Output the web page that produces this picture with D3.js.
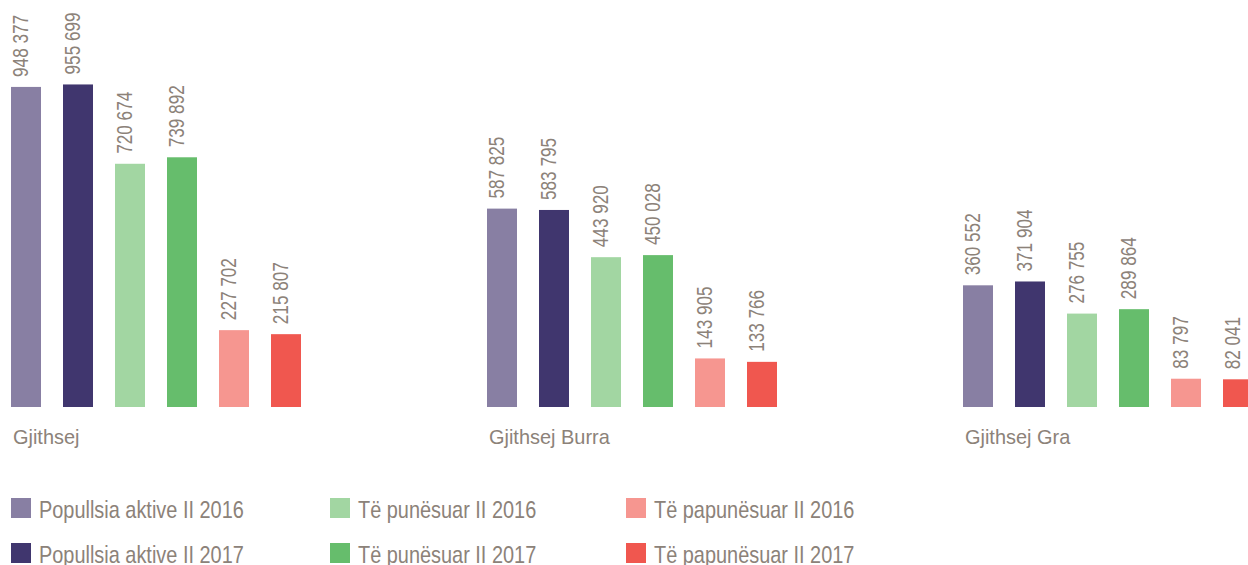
<!DOCTYPE html>
<html>
<head>
<meta charset="utf-8">
<script src="https://cdn.jsdelivr.net/npm/d3@7"></script>
<style>
  html, body { margin: 0; padding: 0; background: #fff; }
  svg { display: block; }
  text { font-family: "Liberation Sans", Arial, sans-serif; fill: #8c8279; }
</style>
</head>
<body>
<svg id="chart" width="1248" height="565"></svg>
<script>
const categories = ["Gjithsej", "Gjithsej Burra", "Gjithsej Gra"];
const seriesNames = [
  "Popullsia aktive II 2016", "Popullsia aktive II 2017",
  "Të punësuar II 2016", "Të punësuar II 2017",
  "Të papunësuar II 2016", "Të papunësuar II 2017"
];
const popAktive2016 = [948377, 587825, 360552];
const popAktive2017 = [955699, 583795, 371904];
const tePunesuar2016 = [720674, 443920, 276755];
const tePunesuar2017 = [739892, 450028, 289864];
const tePapunesuar2016 = [227702, 143905, 83797];
const tePapunesuar2017 = [215807, 133766, 82041];
const seriesValues = [popAktive2016, popAktive2017, tePunesuar2016, tePunesuar2017, tePapunesuar2016, tePapunesuar2017];
const colors = ["#887fa3", "#40366e", "#a2d6a2", "#66bd6c", "#f69690", "#f0574f"];

const svg = d3.select("#chart");
const baseY = 407;

const x0 = d3.scaleBand().domain(categories).range([11, 11 + 3 * 476]).padding(0);
const x1 = d3.scaleBand().domain(seriesNames).range([0, 6 * 52 - 22]).paddingInner(22 / 52).paddingOuter(0);
const y = d3.scaleLinear().domain([0, 1200000]).range([baseY, baseY - 405]);

const fmt = v => d3.format(",")(v).replace(/,/g, " ");

const groups = svg.selectAll("g.grp").data(categories).join("g")
  .attr("class", "grp")
  .attr("transform", c => `translate(${x0(c)},0)`);

groups.each(function(c, ci) {
  const g = d3.select(this);
  const rows = seriesNames.map((s, si) => ({ s, si, v: seriesValues[si][ci] }));
  g.selectAll("rect").data(rows).join("rect")
    .attr("x", d => x1(d.s))
    .attr("y", d => y(d.v))
    .attr("width", x1.bandwidth())
    .attr("height", d => baseY - y(d.v))
    .attr("fill", d => colors[d.si]);
  g.selectAll("text.val").data(rows).join("text")
    .attr("class", "val")
    .attr("transform", d => `translate(${x1(d.s) + x1.bandwidth() / 2 + 2},${y(d.v) - 10}) rotate(-90) scale(0.78,1)`)
    .attr("text-anchor", "start")
    .style("font-size", "22px")
    .text(d => fmt(d.v));
  g.append("text")
    .attr("transform", "translate(2,444) scale(0.95,1)")
    .style("font-size", "21px")
    .text(c);
});

// legend
const legendCols = [11, 330, 626];
const legendRows = [498, 543];
const leg = svg.selectAll("g.leg").data(seriesNames).join("g")
  .attr("class", "leg")
  .attr("transform", (d, i) => `translate(${legendCols[Math.floor(i / 2)]},${legendRows[i % 2]})`);
leg.append("rect").attr("width", 20).attr("height", 20).attr("fill", (d, i) => colors[i]);
leg.append("text")
  .attr("transform", "translate(28,19.5) scale(0.83,1)")
  .style("font-size", "24px")
  .text(d => d);
</script>
</body>
</html>
